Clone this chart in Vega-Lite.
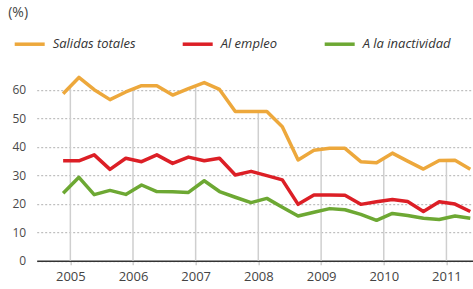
{
  "$schema": "https://vega.github.io/schema/vega-lite/v6.json",
  "width": 436,
  "height": 193.5,
  "autosize": {"type": "none"},
  "padding": {"left": 36.7, "top": 67.2, "right": 0, "bottom": 28.3},
  "background": "white",
  "config": {
    "view": {"stroke": null},
    "font": "Open Sans",
    "axisY": {
      "values": [0, 10, 20, 30, 40, 50, 60], "tickCount": 7,
      "grid": true, "gridDash": [2, 2], "gridColor": "#b0b0b0", "gridWidth": 1,
      "domain": false, "ticks": false, "labelOverlap": false,
      "labelPadding": 11, "labelFontSize": 12, "labelColor": "#4a4a4a"
    }
  },
  "encoding": {
    "x": {
      "field": "d", "type": "temporal",
      "scale": {"type": "utc", "domain": [{"year": 2004, "month": 6, "date": 19, "utc": true}, {"year": 2011, "month": 6, "date": 3, "utc": true}]},
      "axis": {
        "title": null, "format": "%Y", "tickCount": "year",
        "grid": false, "domainColor": "#333333", "domainWidth": 1.5,
        "tickColor": "#cfcfcf", "tickWidth": 1.5, "tickSize": 4,
        "labelFontSize": 13, "labelColor": "#444444", "labelPadding": 6, "labelFlush": false
      }
    }
  },
  "layer": [
    {
      "data": {"values": [
        {"d": "2005-01-01", "v": 61.3},
        {"d": "2006-01-01", "v": 60.3},
        {"d": "2007-01-01", "v": 61.5},
        {"d": "2008-01-01", "v": 52.4},
        {"d": "2009-01-01", "v": 39.1},
        {"d": "2010-01-01", "v": 36.0},
        {"d": "2011-01-01", "v": 35.25}
      ]},
      "mark": {"type": "rule", "color": "#cfcfcf", "strokeWidth": 1.5},
      "encoding": {
        "y": {
          "field": "v", "type": "quantitative",
          "scale": {"domain": [0, 68], "nice": false},
          "axis": {
            "values": [0, 10, 20, 30, 40, 50, 60],
            "title": "(%)", "titleAngle": 0, "titleX": -29, "titleY": -55,
            "titleAlign": "left", "titleBaseline": "middle",
            "titleFontWeight": "normal", "titleFontSize": 14, "titleColor": "#444444"
          }
        },
        "y2": {"datum": 0}
      }
    },
    {
      "data": {"values": [
        {"d": "2004-11-20", "Salidas totales": 58.7, "Al empleo": 35.1, "A la inactividad": 23.7},
        {"d": "2005-02-20", "Salidas totales": 64.4, "Al empleo": 35.1, "A la inactividad": 29.3},
        {"d": "2005-05-20", "Salidas totales": 60.1, "Al empleo": 37.2, "A la inactividad": 23.2},
        {"d": "2005-08-20", "Salidas totales": 56.6, "Al empleo": 32.1, "A la inactividad": 24.7},
        {"d": "2005-11-20", "Salidas totales": 59.3, "Al empleo": 36.0, "A la inactividad": 23.3},
        {"d": "2006-02-20", "Salidas totales": 61.5, "Al empleo": 34.8, "A la inactividad": 26.6},
        {"d": "2006-05-20", "Salidas totales": 61.5, "Al empleo": 37.2, "A la inactividad": 24.3},
        {"d": "2006-08-20", "Salidas totales": 58.2, "Al empleo": 34.2, "A la inactividad": 24.2},
        {"d": "2006-11-20", "Salidas totales": 60.5, "Al empleo": 36.4, "A la inactividad": 24.0},
        {"d": "2007-02-20", "Salidas totales": 62.6, "Al empleo": 35.1, "A la inactividad": 28.1},
        {"d": "2007-05-20", "Salidas totales": 60.2, "Al empleo": 36.0, "A la inactividad": 24.3},
        {"d": "2007-08-20", "Salidas totales": 52.4, "Al empleo": 30.1, "A la inactividad": 22.3},
        {"d": "2007-11-20", "Salidas totales": 52.4, "Al empleo": 31.4, "A la inactividad": 20.4},
        {"d": "2008-02-20", "Salidas totales": 52.4, "Al empleo": 29.9, "A la inactividad": 21.9},
        {"d": "2008-05-20", "Salidas totales": 47.1, "Al empleo": 28.4, "A la inactividad": 18.8},
        {"d": "2008-08-20", "Salidas totales": 35.4, "Al empleo": 19.8, "A la inactividad": 15.7},
        {"d": "2008-11-20", "Salidas totales": 38.8, "Al empleo": 23.1, "A la inactividad": 17.0},
        {"d": "2009-02-20", "Salidas totales": 39.5, "Al empleo": 23.1, "A la inactividad": 18.3},
        {"d": "2009-05-20", "Salidas totales": 39.5, "Al empleo": 23.0, "A la inactividad": 17.9},
        {"d": "2009-08-20", "Salidas totales": 34.8, "Al empleo": 19.8, "A la inactividad": 16.3},
        {"d": "2009-11-20", "Salidas totales": 34.4, "Al empleo": 20.7, "A la inactividad": 14.2},
        {"d": "2010-02-20", "Salidas totales": 37.8, "Al empleo": 21.5, "A la inactividad": 16.6},
        {"d": "2010-05-20", "Salidas totales": 35.0, "Al empleo": 20.8, "A la inactividad": 15.9},
        {"d": "2010-08-20", "Salidas totales": 32.2, "Al empleo": 17.3, "A la inactividad": 14.9},
        {"d": "2010-11-20", "Salidas totales": 35.2, "Al empleo": 20.7, "A la inactividad": 14.5},
        {"d": "2011-02-20", "Salidas totales": 35.3, "Al empleo": 19.9, "A la inactividad": 15.7},
        {"d": "2011-05-20", "Salidas totales": 32.1, "Al empleo": 17.3, "A la inactividad": 14.9}
      ]},
      "transform": [{"fold": ["Salidas totales", "Al empleo", "A la inactividad"], "as": ["serie", "valor"]}],
      "mark": {"type": "line", "strokeWidth": 3.5, "strokeJoin": "round"},
      "encoding": {
        "y": {
          "field": "valor", "type": "quantitative",
          "axis": {
            "values": [0, 10, 20, 30, 40, 50, 60],
            "title": "(%)", "titleAngle": 0, "titleX": -29, "titleY": -55,
            "titleAlign": "left", "titleBaseline": "middle",
            "titleFontWeight": "normal", "titleFontSize": 14, "titleColor": "#444444"
          }
        },
        "color": {
          "field": "serie", "type": "nominal",
          "scale": {"domain": ["Salidas totales", "Al empleo", "A la inactividad"], "range": ["#EDA83C", "#DC1F26", "#6DA833"]},
          "legend": {
            "title": null, "orient": "none", "legendX": -24, "legendY": -40,
            "direction": "horizontal", "symbolType": "stroke", "symbolSize": 900,
            "symbolStrokeWidth": 3.5, "labelFontStyle": "italic", "labelFontSize": 13,
            "labelColor": "#333333", "labelOffset": 6, "columnPadding": 40
          }
        }
      }
    }
  ]
}
